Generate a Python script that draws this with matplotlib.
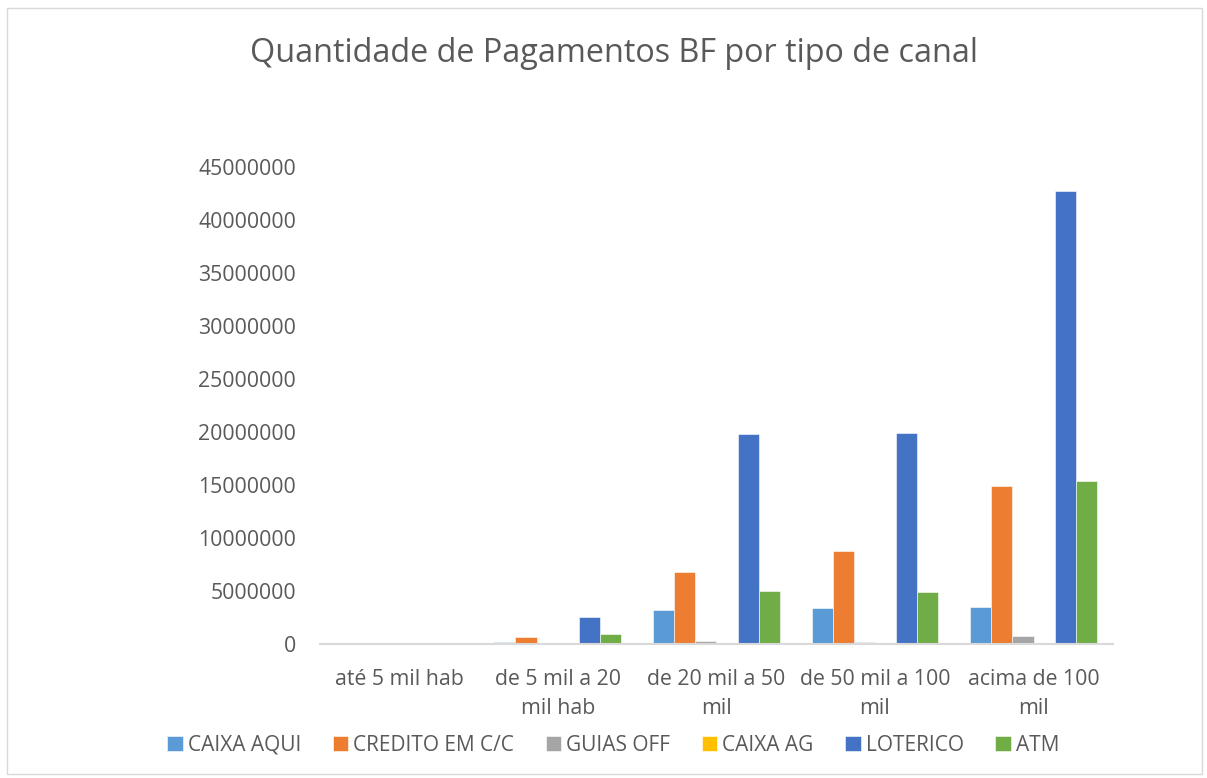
import numpy as np
import matplotlib.pyplot as plt
from matplotlib.patches import Rectangle

plt.rcParams['font.family'] = ['Open Sans', 'DejaVu Sans']

# categories (city size) and series values
categories = ["até 5 mil hab", "de 5 mil a 20\nmil hab", "de 20 mil a 50\nmil",
              "de 50 mil a 100\nmil", "acima de 100\nmil"]
caixa_aqui = [15000, 200000, 3200000, 3400000, 3500000]
credito_cc = [20000, 650000, 6800000, 8800000, 14900000]
guias_off = [2000, 20000, 300000, 250000, 750000]
caixa_ag = [0, 0, 0, 0, 0]
loterico = [30000, 2550000, 19800000, 19900000, 42800000]
atm = [10000, 950000, 5050000, 4900000, 15400000]

series = ["CAIXA AQUI", "CREDITO EM C/C", "GUIAS OFF", "CAIXA AG", "LOTERICO", "ATM"]
values = [caixa_aqui, credito_cc, guias_off, caixa_ag, loterico, atm]
colors = ["#5B9BD5", "#ED7D31", "#A5A5A5", "#FFC000", "#4472C4", "#70AD47"]

fig = plt.figure(figsize=(12.07, 7.78), dpi=100)
ax = fig.add_axes([0.265, 0.172, 0.657, 0.613])

x = np.arange(len(categories))
w = 0.8 / len(series)
for i, (name, vals, c) in enumerate(zip(series, values, colors)):
    ax.bar(x + (i - 2.5) * w, vals, w, color=c, label=name, edgecolor="white", linewidth=0.4)

ax.set_ylim(0, 45000000)
ax.set_yticks(np.arange(0, 45000001, 5000000))
ax.set_yticklabels([str(v) for v in range(0, 45000001, 5000000)])
ax.set_xlim(-0.5, len(categories) - 0.5)
ax.set_xticks(x)
ax.set_xticklabels(categories, linespacing=1.5)
ax.tick_params(axis="both", length=0, colors="#595959", labelsize=15.3)
ax.tick_params(axis="x", pad=18)
ax.tick_params(axis="y", pad=17)
for s in ["top", "right", "left"]:
    ax.spines[s].set_visible(False)
ax.spines["bottom"].set_color("#D9D9D9")
ax.spines["bottom"].set_linewidth(1.5)

fig.text(0.509, 0.931, "Quantidade de Pagamentos BF por tipo de canal",
         ha="center", va="center", fontsize=23.3, color="#595959")

fig.legend(loc="center", bbox_to_anchor=(0.508, 0.042), ncol=6, frameon=False,
           fontsize=15, handlelength=0.75, handleheight=0.75, handletextpad=0.25,
           columnspacing=1.5, labelcolor="#595959")

fig.patches.append(Rectangle((0.006, 0.005), 0.99, 0.985, transform=fig.transFigure,
                             fill=False, edgecolor="#D9D9D9", linewidth=1))

plt.savefig("out.png")
